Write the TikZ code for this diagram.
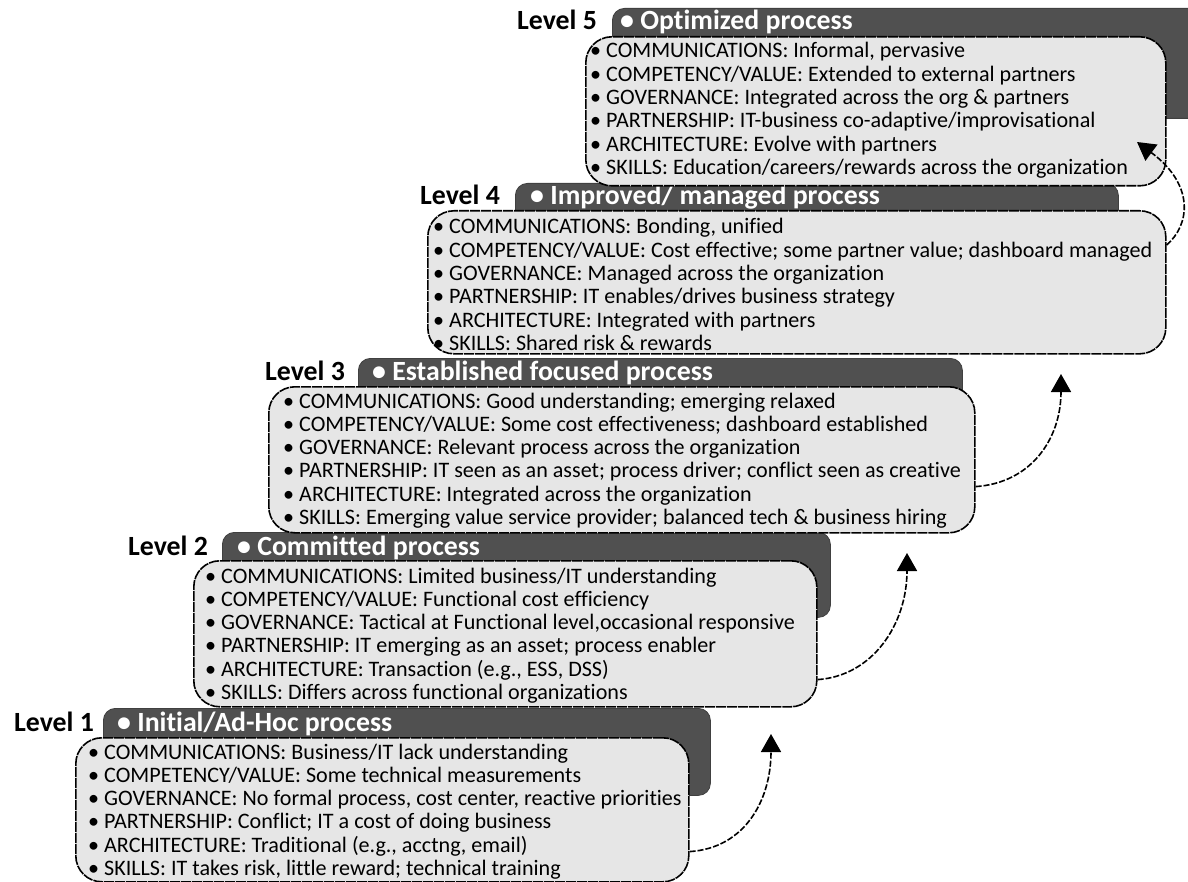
\documentclass[tikz,border=0pt]{standalone}
\usepackage{fontspec}
\setmainfont{Carlito}[Ligatures={NoCommon}]
\usetikzlibrary{arrows.meta,calc}
\definecolor{tabgray}{HTML}{505050}
\definecolor{boxgray}{HTML}{E6E6E6}
\tikzset{
 tabbox/.style={draw=black!75, line width=0.8pt, fill=tabgray, rounded corners=12pt, anchor=north west, inner sep=0pt},
 mainbox/.style={draw=black, line width=1.6pt, dash pattern=on 10pt off 1pt, fill=boxgray, rounded corners=26pt, anchor=north west, inner sep=0pt},
 lvl/.style={anchor=base west, inner sep=0pt, font=\fontsize{27.8}{30}\selectfont\bfseries},
 ttl/.style={lvl, text=white},
 itm/.style={anchor=base west, inner sep=0pt, font=\fontsize{22.1}{23.3}\selectfont},
 uparrow/.style={line width=1.6pt, dash pattern=on 6pt off 2pt, -{Triangle[length=18pt,width=20pt]}},
}
\newcommand\itemlines[4]{%
 \foreach \txt [count=\k from 0] in {#4} {\node[itm] (#1-\k) at (#2, #3+23.3*\k) {• \txt};}}
\newcommand\levelblock[9]{%
 % #1 id, #2 tab x, #3 tab y, #4 tab w, #5 tab h, #6 box x, #7 box y, #8 box w, #9 box h
 \node[tabbox, minimum width=#4pt, minimum height=#5pt] (tab#1) at (#2,#3) {};
 \node[mainbox, minimum width=#8pt, minimum height=#9pt] (box#1) at (#6,#7) {};}
\begin{document}
\begin{tikzpicture}[x=1pt,y=-1pt]
\useasboundingbox (0,0) rectangle (1188,882);
% Level 1
\levelblock{1}{103}{708}{607}{87}{75}{737}{613}{144}
\node[lvl] (lab1) at (14,731) {Level 1};
\node[ttl] (ttl1) at (117,731) {• Initial/Ad-Hoc process};
\itemlines{it1}{88}{759}{COMMUNICATIONS: Business/IT lack understanding,
 COMPETENCY/VALUE: Some technical measurements,
 {GOVERNANCE: No formal process, cost center, reactive priorities},
 PARTNERSHIP: Conflict; IT a cost of doing business,
 {ARCHITECTURE: Traditional (e.g., acctng, email)},
 {SKILLS: IT takes risk, little reward; technical training}}
% Level 2
\levelblock{2}{222}{532}{608}{85}{193}{560}{623}{146}
\node[lvl] (lab2) at (128,555) {Level 2};
\node[ttl] (ttl2) at (237,555) {• Committed process};
\itemlines{it2}{205}{583}{COMMUNICATIONS: Limited business/IT understanding,
 COMPETENCY/VALUE: Functional cost efficiency,
 {GOVERNANCE: Tactical at Functional level,occasional responsive},
 PARTNERSHIP: IT emerging as an asset; process enabler,
 {ARCHITECTURE: Transaction (e.g., ESS, DSS)},
 SKILLS: Differs across functional organizations}
% Level 3
\levelblock{3}{358}{358}{604}{87}{268}{386}{706}{146}
\node[lvl] (lab3) at (265,381) {Level 3};
\node[ttl] (ttl3) at (372,381) {• Established focused process};
\itemlines{it3}{283}{408}{COMMUNICATIONS: Good understanding; emerging relaxed,
 COMPETENCY/VALUE: Some cost effectiveness; dashboard established,
 GOVERNANCE: Relevant process across the organization,
 PARTNERSHIP: IT seen as an asset; process driver; conflict seen as creative,
 ARCHITECTURE: Integrated across the organization,
 SKILLS: Emerging value service provider; balanced tech \& business hiring}
% Level 4
\levelblock{4}{515}{183}{603}{82}{427}{210}{738}{143}
\node[lvl] (lab4) at (420,205) {Level 4};
\node[ttl] (ttl4) at (530,205) {• Improved/ managed process};
\itemlines{it4}{433}{234}{{COMMUNICATIONS: Bonding, unified},
 COMPETENCY/VALUE: Cost effective; some partner value; dashboard managed,
 GOVERNANCE: Managed across the organization,
 PARTNERSHIP: IT enables/drives business strategy,
 ARCHITECTURE: Integrated with partners,
 SKILLS: Shared risk \& rewards}
% Level 5
\levelblock{5}{612}{8}{600}{110}{585}{36}{580}{149}
\node[lvl] (lab5) at (517,30) {Level 5};
\node[ttl] (ttl5) at (620,30) {• Optimized process};
\itemlines{it5}{590}{58}{{COMMUNICATIONS: Informal, pervasive},
 COMPETENCY/VALUE: Extended to external partners,
 GOVERNANCE: Integrated across the org \& partners,
 PARTNERSHIP: IT-business co-adaptive/improvisational,
 ARCHITECTURE: Evolve with partners,
 SKILLS: Education/careers/rewards across the organization}
% arrows
\coordinate (tip1) at (771,734);
\coordinate (tip2) at (907,553);
\coordinate (tip3) at (1061,374);
\coordinate (tip4) at (1137,142);
\draw[uparrow] ($(box1.south east)+(0,-31)$) .. controls (745,848) and (771,800) .. (tip1);
\draw[uparrow] ($(box2.south east)+(0,-28)$) .. controls (872,676) and (907,625) .. (tip2);
\draw[uparrow] ($(box3.south east)+(0,-47)$) .. controls (1030,483) and (1061,440) .. (tip3);
\draw[uparrow] ($(box4.north east)+(0,35)$) .. controls (1190,225) and (1195,185) .. (tip4);
\end{tikzpicture}
\end{document}
